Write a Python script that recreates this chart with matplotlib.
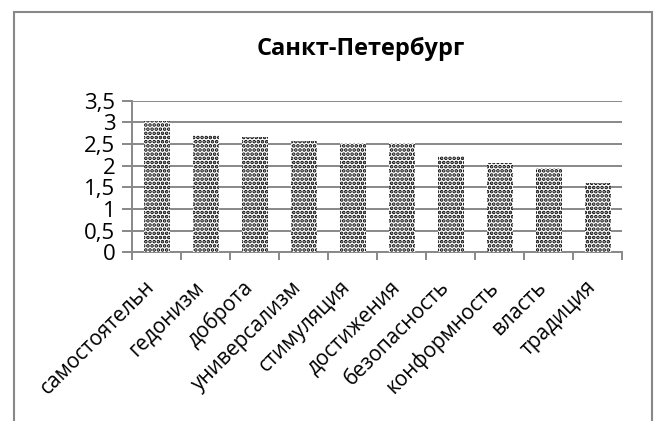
import numpy as np
import matplotlib.pyplot as plt
import matplotlib.transforms as mtransforms
from matplotlib.patches import Rectangle
from matplotlib.ticker import FuncFormatter

plt.rcParams['font.family'] = ['Open Sans', 'DejaVu Sans']
plt.rcParams['hatch.linewidth'] = 1.8

categories = ['самостоятельн', 'гедонизм', 'доброта', 'универсализм', 'стимуляция',
              'достижения', 'безопасность', 'конформность', 'власть', 'традиция']
values = [3.03, 2.71, 2.66, 2.57, 2.52, 2.52, 2.21, 2.07, 1.94, 1.60]
yticks = [0, 0.5, 1, 1.5, 2, 2.5, 3, 3.5]

grey = '#888888'

fig = plt.figure(figsize=(6.57, 4.21), dpi=100)
ax = fig.add_axes([0.201, 0.401, 0.746, 0.360])

x = np.arange(len(categories))
ax.bar(x, values, width=0.53, color='white', edgecolor='black',
       hatch='....', linewidth=0, zorder=3)

ax.set_xlim(-0.5, len(categories) - 0.5)
ax.set_ylim(0, 3.5)
ax.set_yticks(yticks)
ax.yaxis.set_major_formatter(FuncFormatter(lambda v, p: f'{v:g}'.replace('.', ',')))
ax.grid(axis='y', color=grey, linewidth=1.4, zorder=0)

# category labels sit at the centres, ticks at the boundaries
ax.set_xticks(x)
ax.set_xticklabels(categories, rotation=45, ha='right', va='center',
                   rotation_mode='anchor', fontsize=15)
ax.set_xticks(np.arange(-0.5, len(categories)), minor=True)
ax.tick_params(axis='x', which='major', length=0, pad=23)
ax.tick_params(axis='x', which='minor', length=6, width=1.4, color=grey)
ax.tick_params(axis='y', length=7, width=1.4, color=grey, labelsize=16, pad=5)

# nudge the slanted labels left so they end under the category centre
shift = mtransforms.ScaledTranslation(-5 / 100, 0, fig.dpi_scale_trans)
for lbl in ax.get_xticklabels():
    lbl.set_transform(lbl.get_transform() + shift)

for s in ['top', 'right']:
    ax.spines[s].set_visible(False)
for s in ['left', 'bottom']:
    ax.spines[s].set_color(grey)
    ax.spines[s].set_linewidth(1.4)

fig.text(361 / 657, 1 - 55 / 421, 'Санкт-Петербург', fontsize=17,
         fontweight='bold', ha='center', va='baseline')

# outer chart frame
fig.patches.append(Rectangle((14 / 657, -0.05), (652 - 14) / 657, 1.05 - 12 / 421,
                             transform=fig.transFigure, fill=False,
                             edgecolor=grey, linewidth=1.5))

fig.savefig('out.png', dpi=100)
